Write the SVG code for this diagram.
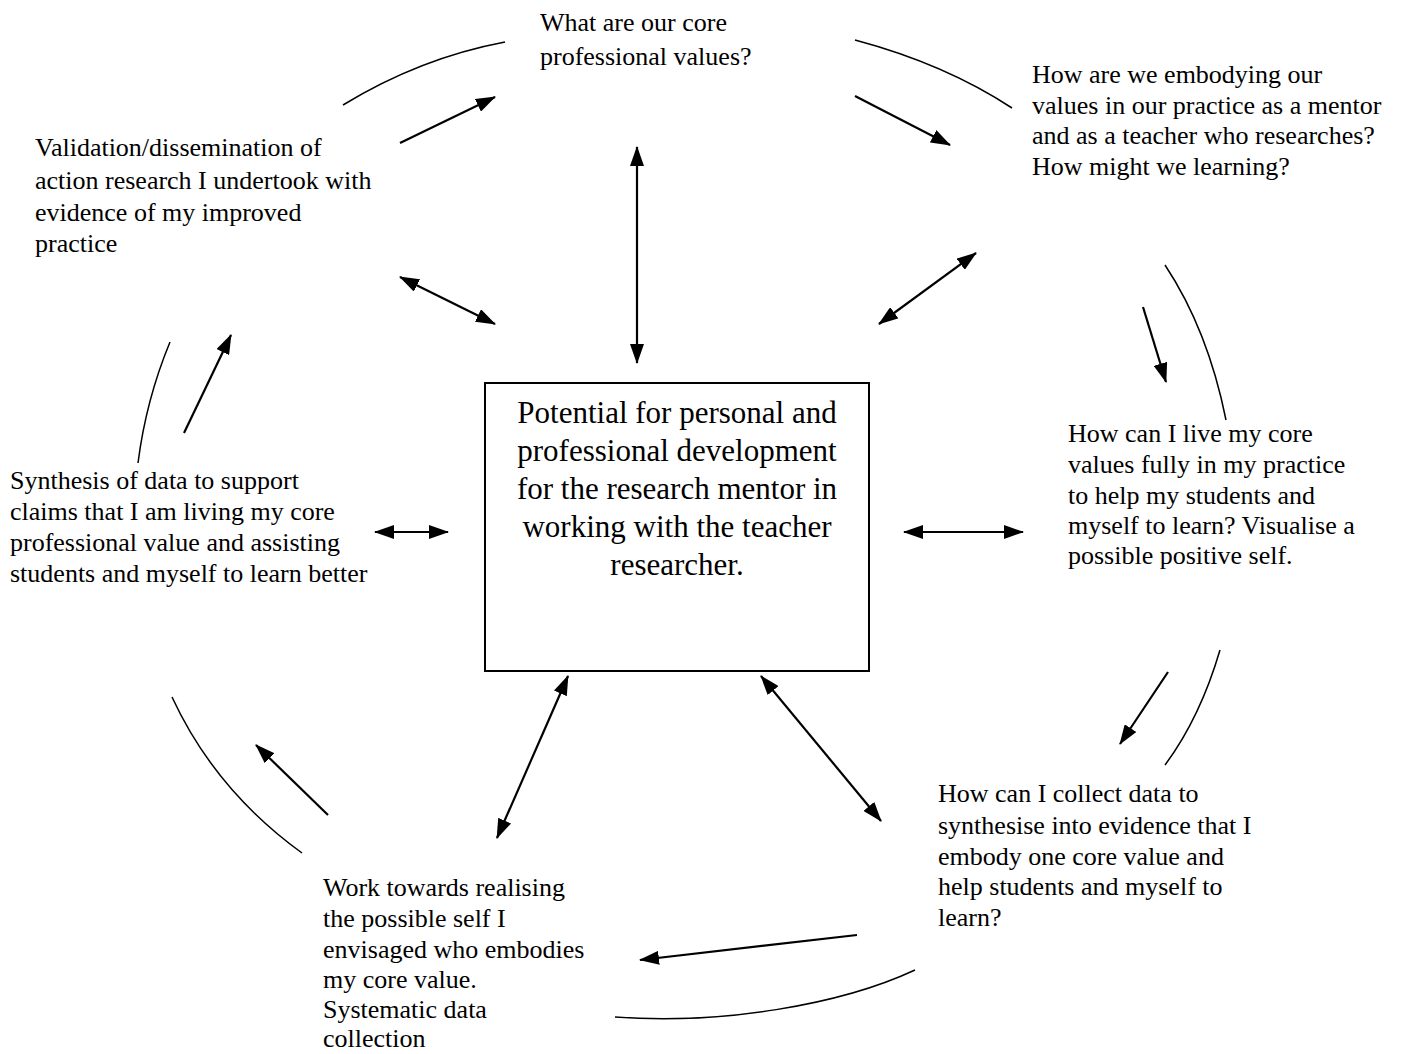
<svg xmlns="http://www.w3.org/2000/svg" width="1409" height="1054" viewBox="0 0 1409 1054">
  <defs>
    <marker id="head" markerUnits="userSpaceOnUse" markerWidth="20" markerHeight="14" refX="19" refY="7" orient="auto-start-reverse">
      <path d="M0,0 L20,7 L0,14 z" fill="#000"/>
    </marker>
    <style>
      text { font-family: "Liberation Serif", "Times New Roman", serif; fill: #000; }
      .lbl { font-size: 26px; }
      .main { font-size: 31px; text-anchor: middle; }
      .arc { fill: none; stroke: #000; stroke-width: 1.5; }
      .one { stroke: #000; stroke-width: 2.2; fill: none; marker-end: url(#head); }
      .two { stroke: #000; stroke-width: 2.2; fill: none; marker-start: url(#head); marker-end: url(#head); }
    </style>
  </defs>
  <rect width="1409" height="1054" fill="#fff"/>

  <g id="centre">
    <rect x="485" y="383" width="384" height="288" fill="#fff" stroke="#000" stroke-width="2"/>
    <text class="main" x="677" y="423">Potential for personal and</text>
    <text class="main" x="677" y="461">professional development</text>
    <text class="main" x="677" y="499">for the research mentor in</text>
    <text class="main" x="677" y="537">working with the teacher</text>
    <text class="main" x="677" y="575">researcher.</text>
  </g>

  <g id="values">
    <text class="lbl" x="540" y="31">What are our core</text>
    <text class="lbl" x="540" y="65">professional values?</text>
  </g>

  <g id="embodying">
    <text class="lbl" x="1032" y="83">How are we embodying our</text>
    <text class="lbl" x="1032" y="114">values in our practice as a mentor</text>
    <text class="lbl" x="1032" y="144">and as a teacher who researches?</text>
    <text class="lbl" x="1032" y="175">How might we learning?</text>
  </g>

  <g id="live">
    <text class="lbl" x="1068" y="442">How can I live my core</text>
    <text class="lbl" x="1068" y="473">values fully in my practice</text>
    <text class="lbl" x="1068" y="504">to help my students and</text>
    <text class="lbl" x="1068" y="534">myself to learn? Visualise a</text>
    <text class="lbl" x="1068" y="564">possible positive self.</text>
  </g>

  <g id="collect">
    <text class="lbl" x="938" y="802">How can I collect data to</text>
    <text class="lbl" x="938" y="834">synthesise into evidence that I</text>
    <text class="lbl" x="938" y="865">embody one core value and</text>
    <text class="lbl" x="938" y="895">help students and myself to</text>
    <text class="lbl" x="938" y="926">learn?</text>
  </g>

  <g id="realising">
    <text class="lbl" x="323" y="896">Work towards realising</text>
    <text class="lbl" x="323" y="927">the possible self I</text>
    <text class="lbl" x="323" y="958">envisaged who embodies</text>
    <text class="lbl" x="323" y="988">my core value.</text>
    <text class="lbl" x="323" y="1018">Systematic data</text>
    <text class="lbl" x="323" y="1047">collection</text>
  </g>

  <g id="synthesis">
    <text class="lbl" x="10" y="489">Synthesis of data to support</text>
    <text class="lbl" x="10" y="520">claims that I am living my core</text>
    <text class="lbl" x="10" y="551">professional value and assisting</text>
    <text class="lbl" x="10" y="582">students and myself to learn better</text>
  </g>

  <g id="validation">
    <text class="lbl" x="35" y="156">Validation/dissemination of</text>
    <text class="lbl" x="35" y="189">action research I undertook with</text>
    <text class="lbl" x="35" y="221">evidence of my improved</text>
    <text class="lbl" x="35" y="252">practice</text>
  </g>

  <g id="connectors">
    <!-- outer cycle arcs -->
    <path class="arc" d="M343,105 Q420,58 505,42"/>
    <path class="arc" d="M855,40 Q945,64 1012,108"/>
    <path class="arc" d="M1165,265 Q1208,330 1226,420"/>
    <path class="arc" d="M1220,650 Q1200,718 1165,765"/>
    <path class="arc" d="M915,970 C840,1005 720,1025 615,1017"/>
    <path class="arc" d="M302,853 Q215,790 172,697"/>
    <path class="arc" d="M138,463 Q146,400 170,342"/>

    <!-- cycle direction arrows -->
    <line class="one" x1="400" y1="143" x2="495" y2="97"/>
    <line class="one" x1="855" y1="96" x2="950" y2="145"/>
    <line class="one" x1="1143" y1="307" x2="1166" y2="382"/>
    <line class="one" x1="1168" y1="672" x2="1120" y2="744"/>
    <line class="one" x1="857" y1="935" x2="640" y2="960"/>
    <line class="one" x1="328" y1="815" x2="256" y2="745"/>
    <line class="one" x1="184" y1="433" x2="231" y2="335"/>

    <!-- links with the centre -->
    <line class="two" x1="400" y1="277" x2="495" y2="324"/>
    <line class="two" x1="637" y1="147" x2="637" y2="363"/>
    <line class="two" x1="976" y1="253" x2="879" y2="324"/>
    <line class="two" x1="375" y1="532" x2="448" y2="532"/>
    <line class="two" x1="904" y1="532" x2="1023" y2="532"/>
    <line class="two" x1="568" y1="676" x2="497" y2="838"/>
    <line class="two" x1="761" y1="676" x2="881" y2="821"/>
  </g>
</svg>
